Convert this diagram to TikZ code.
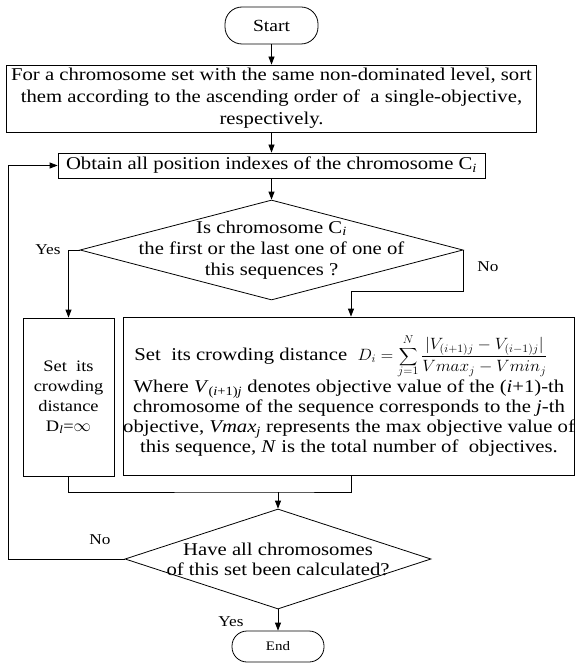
\documentclass[tikz,border=0pt]{standalone}
\usepackage{fontspec}
\setmainfont[FakeStretch=1.15]{Liberation Serif}
\usepackage{graphicx}
\usetikzlibrary{arrows.meta,shapes.geometric}
\tikzset{
  ln/.style={draw, line width=0.8pt},
  arr/.style={ln, -{Triangle[length=8pt,width=6pt]}},
  box/.style={draw, line width=0.8pt, inner sep=0pt, align=center, font=\fontsize{18}{22}\selectfont},
  term/.style={draw, line width=0.8pt, inner sep=0pt, rounded corners=17pt},
  dec/.style={diamond, draw, line width=0.8pt, inner sep=0pt},
  dtext/.style={align=center, inner sep=0pt, font=\fontsize{18}{21}\selectfont},
  lbl/.style={inner sep=0pt, font=\fontsize{15}{18}\selectfont}
}
\newcommand{\crowdsum}{\mathop{{\def\arraystretch{0.5}\begin{array}{@{}c@{}}\scriptstyle N\\[1.5pt]\vcenter{\hbox{\scalebox{1.3}{$\displaystyle\sum$}}}\\[1.5pt]\scriptstyle j=1\end{array}}}}
\begin{document}
\begin{tikzpicture}[x=1pt,y=-1pt]
\useasboundingbox (0,0) rectangle (577,663);
\node[term, minimum width=93pt, minimum height=37pt, font=\fontsize{17}{20}\selectfont] (start) at (271.5,25.5) {Start};
\node[box, minimum width=530pt, minimum height=67pt] (b1) at (271.5,98.5)
  {For a chromosome set with the same non-dominated level, sort\\
   them according to the ascending order of \ a single-objective,\\
   respectively.};
\node[box, minimum width=427pt, minimum height=25pt] (b2) at (271.5,165.5)
  {Obtain all position indexes of the chromosome C\textsubscript{\textit{i}}};
\node[dec, minimum width=383pt, minimum height=100pt] (d1) at (271.5,250) {};
\node[dtext] (d1t) at (d1.center)
  {Is chromosome C\textsubscript{\textit{i}}\\the first or the last one of one of\\this sequences ?};
\node[box, minimum width=91pt, minimum height=158pt, font=\fontsize{16}{20}\selectfont] (lb) at (68.5,397)
  {Set\ \ its\\crowding\\distance\\D\textsubscript{\textit{l}}=$\infty$};
\node[box, minimum width=450pt, minimum height=158pt, font=\fontsize{18}{20}\selectfont] (fb) at (349,396)
  {Set\ \ its crowding distance\ \ \resizebox*{190pt}{42pt}{$\displaystyle D_i=\crowdsum\frac{|V_{(i+1)j}-V_{(i-1)j}|}{Vmax_j-Vmin_j}$}\hspace*{16pt}\\[2pt]
   Where \textit{V}\textsubscript{(\textit{i}+1)\textit{j}} denotes objective value of the (\textit{i}+1)-th\\
   chromosome of the sequence corresponds to the \textit{j}-th\\
   objective, \textit{Vmax\textsubscript{j}} represents the max objective value of\\
   this sequence, \textit{N} is the total number of \ objectives.};
\node[dec, minimum width=306pt, minimum height=100pt] (d2) at (278,559) {};
\node[dtext, font=\fontsize{18}{20}\selectfont] (d2t) at (d2.center)
  {Have all chromosomes\\of this set been calculated?};
\node[term, minimum width=92pt, minimum height=31pt, rounded corners=15pt, font=\fontsize{13}{15}\selectfont] (end) at (278,646.5) {End};
\coordinate (nob) at (351,291);
\coordinate (m) at (278,492);
\coordinate (fbs) at ([xshift=2pt]fb.south);
\coordinate (lp) at (8,559);
\draw[arr] (start.south) -- (b1.north);
\draw[arr] (b1.south) -- (b2.north);
\draw[arr] (b2.south) -- (d1.north);
\draw[arr] (d1.west) -| (lb.north);
\draw[arr] (d1.east) |- (nob) -- (nob |- fb.north);
\draw[ln] (lb.south) |- (m) -| (fbs);
\draw[arr] (m) -- (d2.north);
\draw[arr] (d2.west) -- (lp) |- (b2.west);
\draw[arr] (d2.south) -- (end.north);
\node[lbl] (yes1) at (48,250) {Yes};
\node[lbl] (no1) at (488,267) {No};
\node[lbl] (no2) at (100,540) {No};
\node[lbl] (yes2) at (231,622) {Yes};
\end{tikzpicture}
\end{document}
